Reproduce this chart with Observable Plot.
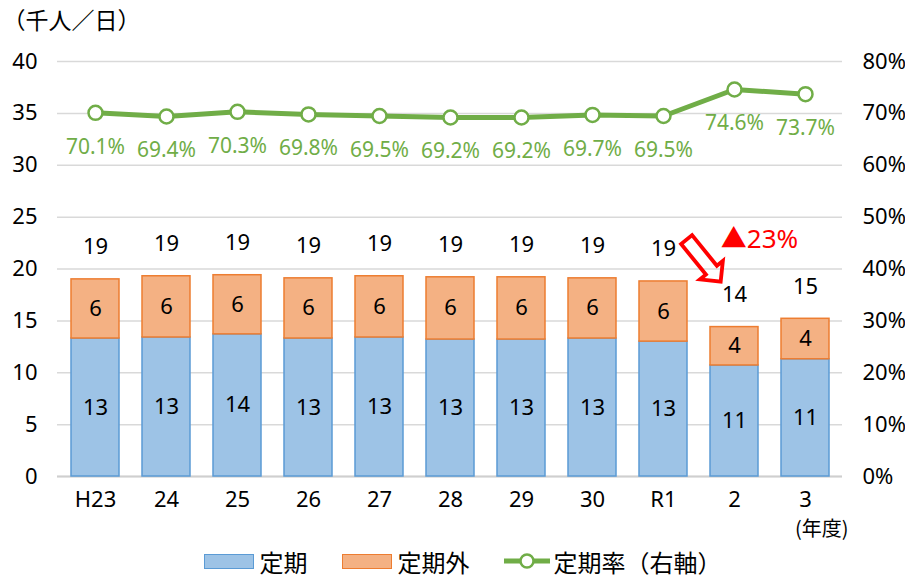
<!DOCTYPE html>
<html><head><meta charset="utf-8">
<script src="https://cdn.jsdelivr.net/npm/d3@7"></script>
<script src="https://cdn.jsdelivr.net/npm/@observablehq/plot@0.6"></script>
<style>
body{margin:0;background:#fff;font-family:"Noto Sans CJK JP","Noto Sans",sans-serif;}
#legend{display:flex;align-items:center;justify-content:center;height:34px;padding-left:20px;font-size:24px;color:#000;}
.item{display:flex;align-items:center;margin-right:34px;}
.item:last-child{margin-right:0;}
.sw{width:48px;height:13px;margin-right:6px;}
</style></head><body>
<div id="chart"></div>
<div id="legend"></div>
<script>
const years = ["H23","24","25","26","27","28","29","30","R1","2","3"];
const teiki = [13.3,13.4,13.7,13.3,13.4,13.2,13.2,13.3,13.0,10.7,11.3];
const teikigai = [5.7,5.9,5.7,5.8,5.9,6.0,6.0,5.8,5.8,3.7,3.9];
const rate = [70.1,69.4,70.3,69.8,69.5,69.2,69.2,69.7,69.5,74.6,73.7];
const yTicks = [0,5,10,15,20,25,30,35,40];
const seriesNames = ["定期","定期外","定期率（右軸）"];
const colors = {teikiFill:"#9DC3E6", teikiStroke:"#5B9BD5", gaiFill:"#F4B183", gaiStroke:"#ED7D31", line:"#70AD47"};

const data = years.map((y,i)=>({year:y, teiki:teiki[i], gai:teikigai[i], total:teiki[i]+teikigai[i], rate:rate[i]}));
const fmtRate = v => v.toFixed(1) + "%";

const chart = Plot.plot({
  width: 905, height: 544,
  marginTop: 61, marginBottom: 68, marginLeft: 57, marginRight: 63,
  style: {fontSize: "22px", fontFamily: '"Noto Sans","Noto Sans CJK JP",sans-serif', color: "#000", background: "#fff"},
  x: {domain: years, paddingInner: 0.33, paddingOuter: 0.15, label: null},
  y: {domain: [0, 40], label: null},
  marks: [
    Plot.gridY(yTicks, {stroke: "#d9d9d9", strokeOpacity: 1, strokeWidth: 1.5}),
    Plot.axisY(yTicks, {anchor: "left", tickSize: 0, tickPadding: 20, label: null}),
    Plot.axisY(yTicks, {anchor: "right", tickSize: 0, tickPadding: 20, label: null, tickFormat: d => (d * 2) + "%"}),
    Plot.axisX({tickSize: 0, tickPadding: 15, label: null}),
    Plot.ruleY([0], {stroke: "#cfcfcf", strokeWidth: 2}),
    Plot.barY(data, {x: "year", y1: 0, y2: "teiki", fill: colors.teikiFill, stroke: colors.teikiStroke, strokeWidth: 1.5}),
    Plot.barY(data, {x: "year", y1: "teiki", y2: "total", fill: colors.gaiFill, stroke: colors.gaiStroke, strokeWidth: 1.5}),
    Plot.text(data, {x: "year", y: d => d.teiki / 2, text: d => String(Math.round(d.teiki)), fill: "#000"}),
    Plot.text(data, {x: "year", y: d => d.teiki + d.gai / 2, text: d => String(Math.round(d.gai)), fill: "#000"}),
    Plot.text(data, {x: "year", y: "total", dy: -32, text: d => String(Math.round(d.total)), fill: "#000"}),
    Plot.line(data, {x: "year", y: d => d.rate / 2, stroke: colors.line, strokeWidth: 5}),
    Plot.dot(data, {x: "year", y: d => d.rate / 2, r: 7, fill: "#fff", stroke: colors.line, strokeWidth: 2.5}),
    Plot.text(data, {x: "year", y: d => d.rate / 2, dy: 34, text: d => fmtRate(d.rate), fill: colors.line, fontSize: 21}),
    Plot.text(["（千人／日）"], {frameAnchor: "top-left", dx: -55, dy: -40, lineAnchor: "middle", textAnchor: "start", fill: "#000", fontSize: 23, fontFamily: '"Noto Sans CJK JP",sans-serif'}),
    Plot.text(["(年度)"], {frameAnchor: "bottom-right", dx: 6, dy: 53, lineAnchor: "middle", textAnchor: "end", fill: "#000", fontSize: 20, fontFamily: '"Noto Sans CJK JP",sans-serif'}),
    Plot.text([{year: "R1"}], {x: "year", y: 20.6, dx: 42, text: () => "⇩", rotate: -39, fontSize: 78, fill: "#FF0000", fontFamily: "DejaVu Sans"}),
    Plot.text([{year: "2"}], {x: "year", y: 22.85, dx: 25, text: () => "▲23%", fontSize: 26, fill: "#FF0000"})
  ]
});
document.getElementById("chart").appendChild(chart);

const legend = document.getElementById("legend");
const items = [
  {name: seriesNames[0], type: "bar", fill: colors.teikiFill, stroke: colors.teikiStroke},
  {name: seriesNames[1], type: "bar", fill: colors.gaiFill, stroke: colors.gaiStroke},
  {name: seriesNames[2], type: "line", stroke: colors.line}
];
for (const it of items) {
  const d = document.createElement("div"); d.className = "item";
  if (it.type === "bar") {
    const s = document.createElement("div"); s.className = "sw";
    s.style.background = it.fill; s.style.border = "1.5px solid " + it.stroke;
    d.appendChild(s);
  } else {
    const ns = "http://www.w3.org/2000/svg";
    const svg = document.createElementNS(ns, "svg");
    svg.setAttribute("width", 46); svg.setAttribute("height", 18); svg.style.marginRight = "4px";
    const l = document.createElementNS(ns, "line");
    l.setAttribute("x1", 0); l.setAttribute("x2", 46); l.setAttribute("y1", 9); l.setAttribute("y2", 9);
    l.setAttribute("stroke", it.stroke); l.setAttribute("stroke-width", 5);
    const c = document.createElementNS(ns, "circle");
    c.setAttribute("cx", 23); c.setAttribute("cy", 9); c.setAttribute("r", 6.5);
    c.setAttribute("fill", "#fff"); c.setAttribute("stroke", it.stroke); c.setAttribute("stroke-width", 2.5);
    svg.appendChild(l); svg.appendChild(c); d.appendChild(svg);
  }
  const t = document.createElement("span"); t.textContent = it.name; d.appendChild(t);
  legend.appendChild(d);
}
</script>
</body></html>
